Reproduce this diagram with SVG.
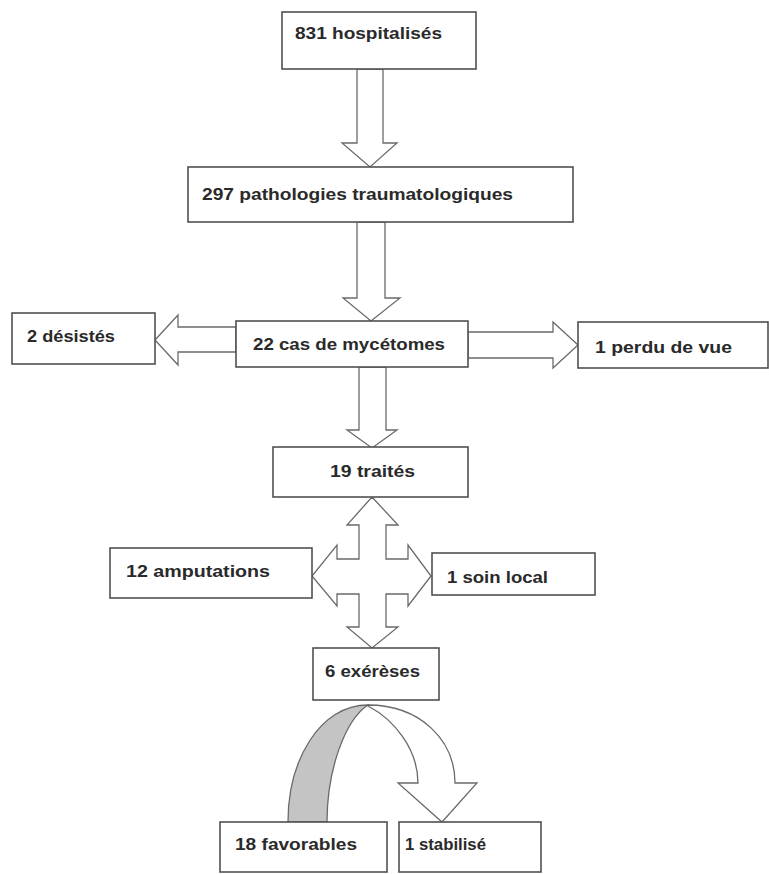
<svg xmlns="http://www.w3.org/2000/svg" width="769" height="874" viewBox="0 0 769 874">
<style>
.box{fill:#fff;stroke:#505050;stroke-width:1.6}
.arr{fill:#fff;stroke:#6a6a6a;stroke-width:1.3;stroke-linejoin:miter}
.gray{fill:#c4c4c4;stroke:#6a6a6a;stroke-width:1.3}
text{font-family:"Liberation Sans","DejaVu Sans",sans-serif;font-size:16px;font-weight:bold;fill:#2a2a2a}
</style>
<rect width="769" height="874" fill="#fff"/>
<g id="connectors">
<path class="arr" d="M357,69 L383,69 L383,143 L397,143 L370,167 L342,143 L357,143 Z"/>
<path class="arr" d="M357,222 L385,222 L385,298 L400,298 L371,321 L343,298 L357,298 Z"/>
<path class="arr" d="M236,327 L178,327 L178,315 L155,340 L178,365 L178,352 L236,352 Z"/>
<path class="arr" d="M468,332 L553,332 L553,322 L578,345 L553,368 L553,358 L468,358 Z"/>
<path class="arr" d="M359,367 L386,367 L386,430 L397,430 L372,448 L347,430 L359,430 Z"/>
<path class="arr" d="M372,497 L398,525 L386,525 L386,559 L408,559 L408,545 L431,576 L408,606 L408,594 L386,594 L386,627 L398,627 L372,648 L347,627 L359,627 L359,594 L337,594 L337,606 L312,576 L337,545 L337,559 L359,559 L359,525 L347,525 Z"/>
<path class="gray" d="M288,822 C288,760 320,705 368,705 C345,720 327,770 327,822 Z"/>
<path class="arr" d="M368,705 C420,705 455,740 455,783 L477,783 L442,822 L398,783 L418,783 C418,750 395,720 368,706 Z"/>
</g>
<g id="n1"><rect class="box" x="282" y="12" width="194" height="57"/><text x="295" y="39" textLength="147" lengthAdjust="spacingAndGlyphs">831 hospitalisés</text></g>
<g id="n2"><rect class="box" x="188" y="167" width="385" height="55"/><text x="202" y="200" textLength="311" lengthAdjust="spacingAndGlyphs">297 pathologies traumatologiques</text></g>
<g id="n3"><rect class="box" x="12" y="313" width="143" height="51"/><text x="27" y="342" textLength="88" lengthAdjust="spacingAndGlyphs">2 désistés</text></g>
<g id="n4"><rect class="box" x="236" y="321" width="232" height="46"/><text x="253" y="350" textLength="192" lengthAdjust="spacingAndGlyphs">22 cas de mycétomes</text></g>
<g id="n5"><rect class="box" x="578" y="322" width="190" height="46"/><text x="595" y="353" textLength="137" lengthAdjust="spacingAndGlyphs">1 perdu de vue</text></g>
<g id="n6"><rect class="box" x="273" y="447" width="195" height="50"/><text x="330" y="477" textLength="85" lengthAdjust="spacingAndGlyphs">19 traités</text></g>
<g id="n7"><rect class="box" x="110" y="548" width="202" height="50"/><text x="126" y="577" textLength="144" lengthAdjust="spacingAndGlyphs">12 amputations</text></g>
<g id="n8"><rect class="box" x="432" y="553" width="163" height="42"/><text x="447" y="583" textLength="101" lengthAdjust="spacingAndGlyphs">1 soin local</text></g>
<g id="n9"><rect class="box" x="313" y="648" width="126" height="52"/><text x="325" y="677" textLength="95" lengthAdjust="spacingAndGlyphs">6 exérèses</text></g>
<g id="n10"><rect class="box" x="220" y="822" width="167" height="50"/><text x="235" y="850" textLength="122" lengthAdjust="spacingAndGlyphs">18 favorables</text></g>
<g id="n11"><rect class="box" x="399" y="822" width="142" height="50"/><text x="405" y="850" textLength="81" lengthAdjust="spacingAndGlyphs">1 stabilisé</text></g>
</svg>
